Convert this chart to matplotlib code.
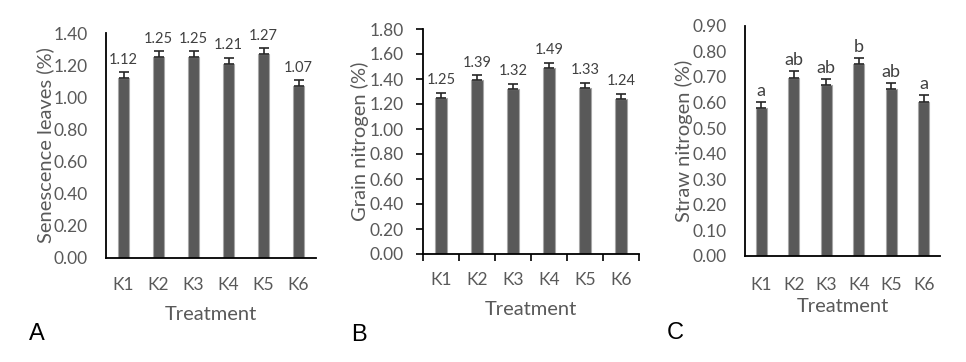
import numpy as np
import matplotlib.pyplot as plt

treatments = ["K1", "K2", "K3", "K4", "K5", "K6"]

senescence = [1.12, 1.25, 1.25, 1.21, 1.27, 1.07]
senescence_err = [0.035, 0.035, 0.035, 0.035, 0.035, 0.035]

grain = [1.25, 1.39, 1.32, 1.49, 1.33, 1.24]
grain_err = [0.04, 0.04, 0.04, 0.04, 0.04, 0.04]

straw = [0.577, 0.697, 0.668, 0.75, 0.651, 0.603]
straw_err = [0.026, 0.026, 0.025, 0.025, 0.025, 0.026]
straw_letters = ["a", "ab", "ab", "b", "ab", "a"]

grey = "#595959"
bar_col = "#595959"
edge_col = "#a6a6a6"
tick_font = "Lato"

fig = plt.figure(figsize=(9.66, 3.62), dpi=100)

W, H = 966.0, 362.0


def make_axes(left, right, top, bottom):
    return fig.add_axes([left / W, (H - bottom) / H, (right - left) / W, (bottom - top) / H])


def draw_panel(ax, vals, errs, ymax, ystep, ylabel, labels, ticks_on, lab_size, lab_off,
               xpad=14, xlabpad=9):
    x = np.arange(len(vals))
    ax.bar(x, vals, width=0.33, color=bar_col, edgecolor=edge_col, linewidth=0.8, zorder=2)
    ax.errorbar(x, vals, yerr=[np.zeros(len(errs)), errs], fmt="none", ecolor="#262626",
                elinewidth=1.2, capsize=3.5, capthick=1.2, zorder=3)
    for xi, v, e, lab in zip(x, vals, errs, labels):
        ax.annotate(lab, (xi, v + e), xytext=(0, lab_off), textcoords="offset points",
                    ha="center", va="bottom", fontsize=lab_size, color="#404040",
                    family=tick_font)
    ax.set_xlim(-0.5, len(vals) - 0.5)
    ax.set_ylim(0, ymax)
    yt = np.arange(0, ymax + ystep / 2, ystep)
    ax.set_yticks(yt)
    ax.set_yticklabels([f"{t:.2f}" for t in yt])
    ax.set_xticks(x)
    ax.set_xticklabels(treatments)
    for s in ["top", "right"]:
        ax.spines[s].set_visible(False)
    for s in ["left", "bottom"]:
        ax.spines[s].set_linewidth(1.3)
        ax.spines[s].set_color("black")
    if ticks_on:
        ax.set_xticks(np.arange(len(vals) + 1) - 0.5, minor=True)
        ax.tick_params(axis="x", which="major", length=0, pad=xpad - 1)
        ax.tick_params(axis="x", which="minor", length=5, width=1.2, color="black")
        ax.tick_params(axis="y", length=5, width=1.2, color="black", pad=9)
    else:
        ax.tick_params(axis="both", length=0)
        ax.tick_params(axis="x", pad=xpad)
        ax.tick_params(axis="y", pad=13)
    for t in ax.get_xticklabels() + ax.get_yticklabels():
        t.set_family(tick_font)
        t.set_fontsize(12.5)
        t.set_color(grey)
    ax.set_ylabel(ylabel, fontsize=14.5, color=grey, family=tick_font, labelpad=0)
    ax.set_xlabel("Treatment", fontsize=14.5, color=grey, family=tick_font, labelpad=xlabpad)


axA = make_axes(106, 316, 33, 258)
draw_panel(axA, senescence, senescence_err, 1.40, 0.20, "Senescence leaves (%)",
           [f"{v:.2f}" for v in senescence], False, 10.5, 4)

axB = make_axes(423, 639, 29, 254)
draw_panel(axB, grain, grain_err, 1.80, 0.20, "Grain nitrogen (%)",
           [f"{v:.2f}" for v in grain], True, 10.5, 4)

axC = make_axes(745, 940, 25.7, 256)
draw_panel(axC, straw, straw_err, 0.90, 0.10, "Straw nitrogen (%)",
           straw_letters, False, 13, 2, xpad=15, xlabpad=4)

fig.text(37 / W, 1 - 334 / H, "A", fontsize=17, family="Liberation Sans", ha="center", va="center")
fig.text(359 / W, 1 - 335 / H, "B", fontsize=17, family="Liberation Sans", ha="center", va="center")
fig.text(675 / W, 1 - 333 / H, "C", fontsize=17, family="Liberation Sans", ha="center", va="center")

fig.savefig("out.png", dpi=100)
